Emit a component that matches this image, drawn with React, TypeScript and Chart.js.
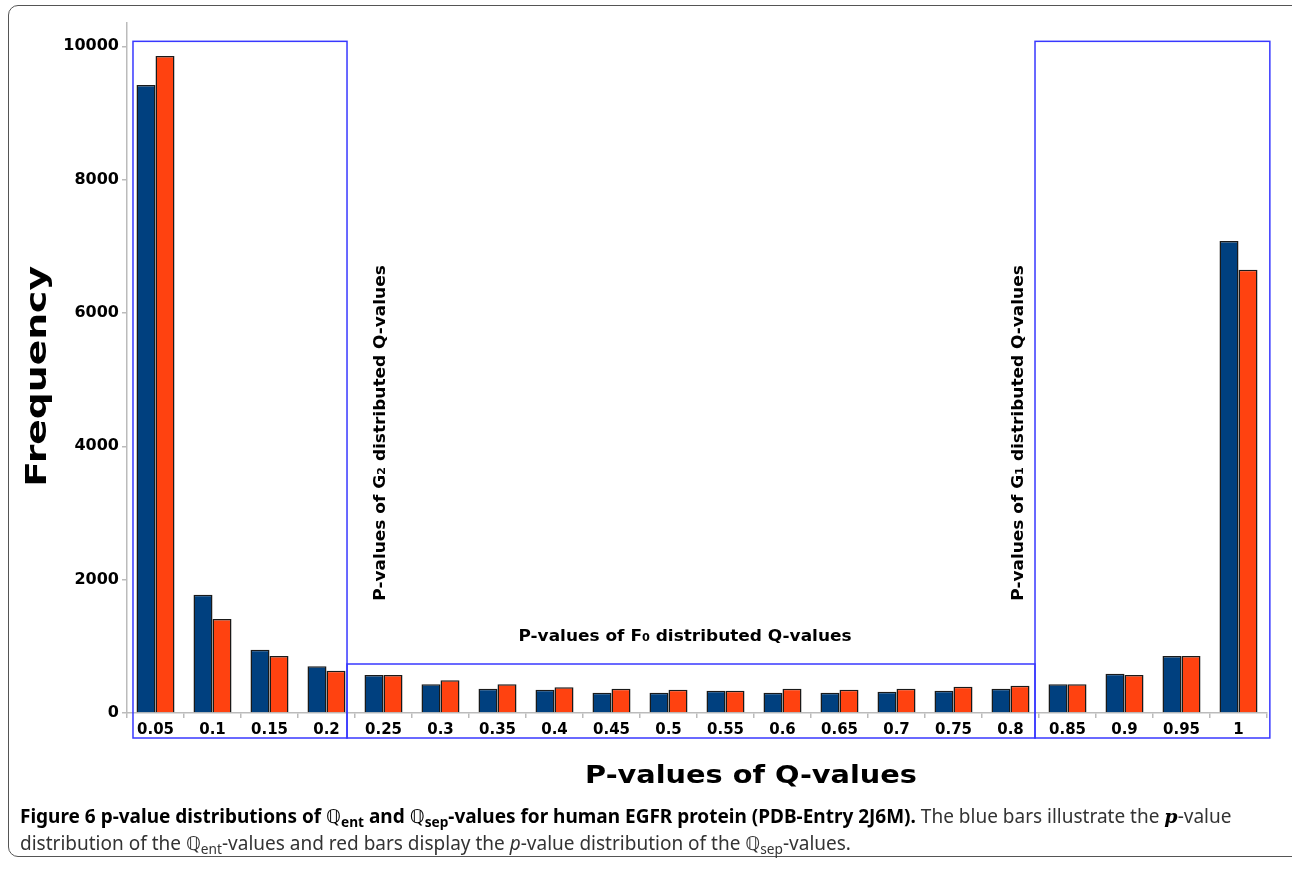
import React, { useEffect, useRef } from "react";
import { Chart, registerables } from "chart.js";

Chart.register(...registerables);

const categories = ["0.05", "0.1", "0.15", "0.2", "0.25", "0.3", "0.35", "0.4", "0.45", "0.5", "0.55", "0.6", "0.65", "0.7", "0.75", "0.8", "0.85", "0.9", "0.95", "1"];
const entValues = [9420, 1775, 950, 700, 570, 430, 365, 350, 305, 305, 335, 305, 305, 320, 335, 365, 430, 590, 855, 7080];
const sepValues = [9855, 1410, 855, 635, 570, 490, 430, 385, 365, 350, 335, 365, 350, 365, 395, 410, 430, 570, 855, 6650];
const yTicks = [0, 2000, 4000, 6000, 8000, 10000];
const seriesNames = ["Qent", "Qsep"];
const xTitle = "P-values of Q-values";
const yTitle = "Frequency";

type Run = { t: string; sub?: boolean };
const g2Label: Run[] = [{ t: "P-values of G" }, { t: "2", sub: true }, { t: " distributed Q-values" }];
const f0Label: Run[] = [{ t: "P-values of F" }, { t: "0", sub: true }, { t: " distributed Q-values" }];
const g1Label: Run[] = [{ t: "P-values of G" }, { t: "1", sub: true }, { t: " distributed Q-values" }];

const BLUE = "#00407f";
const RED = "#ff4210";
const BOX = "#3838ff";
const FONT = "DejaVu Sans, Verdana, sans-serif";

function drawRuns(ctx: CanvasRenderingContext2D, runs: Run[], size: number, stretch: number) {
  const full = `bold ${size}px ${FONT}`;
  const small = `bold ${Math.round(size * 0.68)}px ${FONT}`;
  let total = 0;
  for (const r of runs) {
    ctx.font = r.sub ? small : full;
    total += ctx.measureText(r.t).width;
  }
  ctx.scale(stretch, 1);
  let x = -total / 2;
  ctx.textAlign = "left";
  ctx.textBaseline = "middle";
  for (const r of runs) {
    ctx.font = r.sub ? small : full;
    ctx.fillText(r.t, x, r.sub ? size * 0.12 : 0);
    x += ctx.measureText(r.t).width;
  }
}

const overlayPlugin = {
  id: "overlay",
  afterDraw(chart: any) {
    const ctx: CanvasRenderingContext2D = chart.ctx;
    const xs = chart.scales.x;
    const ys = chart.scales.y;
    const px = (i: number) => xs.getPixelForValue(i);
    const py = (v: number) => ys.getPixelForValue(v);

    const bTop = py(10075);
    const bBot = py(-375);
    const fTop = py(735);
    const x0 = px(-0.395);
    const x1 = px(3.36);
    const x2 = px(15.43);
    const x3 = px(19.55);

    ctx.save();
    ctx.strokeStyle = BOX;
    ctx.lineWidth = 1.5;
    ctx.strokeRect(x0, bTop, x1 - x0, bBot - bTop);
    ctx.strokeRect(x1, fTop, x2 - x1, bBot - fTop);
    ctx.strokeRect(x2, bTop, x3 - x2, bBot - bTop);

    ctx.fillStyle = "#000";
    ctx.save();
    ctx.translate((x1 + x2) / 2 - 6, fTop - 27);
    drawRuns(ctx, f0Label, 15, 1.13);
    ctx.restore();

    ctx.save();
    ctx.translate(x1 + 34, py(4200));
    ctx.rotate(-Math.PI / 2);
    drawRuns(ctx, g2Label, 15, 1.13);
    ctx.restore();

    ctx.save();
    ctx.translate(x2 - 16, py(4200));
    ctx.rotate(-Math.PI / 2);
    drawRuns(ctx, g1Label, 15, 1.13);
    ctx.restore();

    ctx.save();
    ctx.translate(38, py(5050));
    ctx.rotate(-Math.PI / 2);
    drawRuns(ctx, [{ t: yTitle }], 29, 1.3);
    ctx.restore();

    ctx.save();
    ctx.translate(751, 776);
    drawRuns(ctx, [{ t: xTitle }], 25, 1.15);
    ctx.restore();
    ctx.restore();
  },
};

function ChartCanvas() {
  const ref = useRef<HTMLCanvasElement | null>(null);
  useEffect(() => {
    if (!ref.current) return;
    const chart = new Chart(ref.current, {
      type: "bar",
      data: {
        labels: categories,
        datasets: [
          { label: seriesNames[0], data: entValues, backgroundColor: BLUE, borderColor: "#1a1a1a", borderWidth: 1.5, categoryPercentage: 0.667, barPercentage: 1.0 },
          { label: seriesNames[1], data: sepValues, backgroundColor: RED, borderColor: "#1a1a1a", borderWidth: 1.5, categoryPercentage: 0.667, barPercentage: 1.0 },
        ],
      },
      options: {
        animation: false,
        responsive: false,
        maintainAspectRatio: false,
        layout: { padding: { top: 23, right: 25, left: 0, bottom: 0 } },
        plugins: { legend: { display: false }, tooltip: { enabled: false }, title: { display: false } },
        scales: {
          x: {
            grid: { display: true, drawOnChartArea: false, drawTicks: true, tickLength: 5, color: "#bbbbbb", lineWidth: 1.5 },
            border: { display: true, color: "#bbbbbb", width: 1.5 },
            ticks: { color: "#000", font: { family: FONT, weight: "bold", size: 15 }, padding: 3, maxRotation: 0, autoSkip: false },
            afterFit: (s: any) => { s.height = 156; },
          },
          y: {
            min: 0,
            max: 10350,
            afterBuildTicks: (s: any) => { s.ticks = yTicks.map((v) => ({ value: v })); },
            grid: { display: true, drawOnChartArea: false, drawTicks: true, tickLength: 5, color: "#bbbbbb", lineWidth: 1.5 },
            border: { display: true, color: "#bbbbbb", width: 1.5 },
            ticks: { color: "#000", font: { family: FONT, weight: "bold", size: 16 }, padding: 3, callback: (v: any) => String(v) },
            afterFit: (s: any) => { s.width = 127; },
          },
        },
      },
      plugins: [overlayPlugin],
    } as any);
    return () => chart.destroy();
  }, []);
  return <canvas ref={ref} width={1292} height={869} style={{ position: "absolute", left: 0, top: 0, width: 1292, height: 869 }} />;
}

const Q = () => <span style={{ fontFamily: "DejaVu Sans, sans-serif", fontWeight: 400 }}>ℚ</span>;

export default function App() {
  const capStyle: React.CSSProperties = {
    position: "absolute",
    left: 20,
    top: 803,
    width: 1265,
    fontFamily: "'Noto Sans', 'Open Sans', sans-serif",
    fontSize: 19,
    lineHeight: "27px",
    color: "#333",
    whiteSpace: "nowrap",
  };
  const sub: React.CSSProperties = { fontSize: "0.72em", position: "relative", top: "0.3em", lineHeight: 0 };
  return (
    <div style={{ position: "absolute", left: 0, top: 0, width: 1292, height: 869, overflow: "hidden", background: "#fff" }}>
      <div style={{ position: "absolute", left: 8, top: 5, width: 1300, height: 852, border: "1.5px solid #555", borderRadius: 10, boxSizing: "border-box" }} />
      <ChartCanvas />
      <div style={capStyle}>
        <span style={{ fontWeight: 700, color: "#000" }}>
          Figure 6 p-value distributions of <Q /><span style={sub}>ent</span> and <Q /><span style={sub}>sep</span>-values for human EGFR protein (PDB-Entry 2J6M).
        </span>{" "}
        The blue bars illustrate the <b style={{ fontFamily: "DejaVu Serif, serif", fontStyle: "italic", color: "#000" }}>p</b>-value
        <br />
        distribution of the <Q /><span style={sub}>ent</span>-values and red bars display the <i>p</i>-value distribution of the <Q /><span style={sub}>sep</span>-values.
      </div>
    </div>
  );
}
